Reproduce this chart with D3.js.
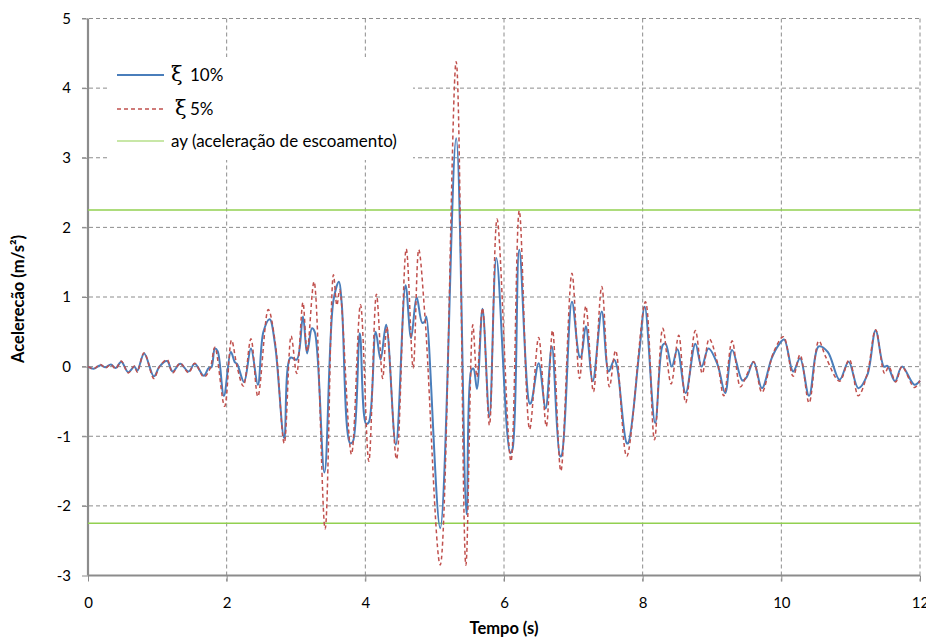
<!DOCTYPE html>
<html>
<head>
<meta charset="utf-8">
<script src="https://cdn.jsdelivr.net/npm/d3@7"></script>
<style>
  body { margin: 0; background: #fff; }
  svg { display: block; font-family: Lato, "Liberation Sans", sans-serif; }
</style>
</head>
<body>
<svg id="chart" width="926" height="638"></svg>
<script>
// xi = 10% (blue, solid)
const time10 = [0, 0.08, 0.18, 0.25, 0.33, 0.40, 0.48, 0.58, 0.67, 0.71, 0.81, 0.95, 1.03, 1.14, 1.22, 1.33, 1.45, 1.54, 1.67, 1.74, 1.78, 1.83, 1.87, 1.96, 2.06, 2.12, 2.15, 2.25, 2.35, 2.45, 2.53, 2.62, 2.70, 2.83, 2.92, 3.01, 3.10, 3.16, 3.23, 3.27, 3.41, 3.54, 3.62, 3.66, 3.78, 3.82, 3.92, 4.01, 4.05, 4.15, 4.22, 4.30, 4.44, 4.58, 4.66, 4.74, 4.82, 4.86, 4.88, 5.08, 5.31, 5.46, 5.53, 5.56, 5.61, 5.69, 5.79, 5.89, 6.09, 6.12, 6.22, 6.37, 6.39, 6.50, 6.60, 6.69, 6.81, 6.83, 6.98, 7.09, 7.11, 7.18, 7.28, 7.41, 7.51, 7.59, 7.63, 7.77, 7.79, 7.95, 8.03, 8.18, 8.29, 8.33, 8.42, 8.50, 8.62, 8.76, 8.85, 8.95, 9.08, 9.19, 9.29, 9.44, 9.50, 9.60, 9.72, 9.86, 9.96, 10.04, 10.17, 10.27, 10.40, 10.54, 10.67, 10.84, 10.97, 11.11, 11.24, 11.36, 11.48, 11.53, 11.64, 11.74, 11.92, 12];
const acc10 = [0, -0.03, 0.02, -0.01, 0.03, -0.02, 0.07, -0.08, 0, -0.06, 0.19, -0.14, 0, 0.08, -0.07, 0.04, -0.07, 0.04, -0.13, -0.02, -0.01, 0.26, 0.22, -0.42, 0.21, 0.06, 0.04, -0.22, 0.26, -0.26, 0.50, 0.68, 0.30, -1.03, 0.13, 0.10, 0.72, 0.19, 0.55, 0.50, -1.52, 0.95, 1.22, 0.90, -1.10, -1.08, 0.48, -0.82, -0.80, 0.50, 0.10, 0.60, -1.12, 1.17, 0.41, 1.00, 0.63, 0.65, 0.72, -2.32, 3.28, -2.12, -0.05, -0.03, -0.32, 0.83, -0.72, 1.56, -1.24, -1.20, 1.68, -0.53, -0.52, 0.05, -0.60, 0.29, -1.29, -1.28, 0.93, 0.14, 0.14, 0.58, -0.21, 0.79, -0.07, 0.10, 0.00, -1.10, -1.10, 0.20, 0.86, -0.81, 0.31, 0.33, 0, 0.25, -0.38, 0.33, 0, 0.26, 0.03, -0.38, 0.24, -0.20, -0.15, 0.07, -0.31, 0.12, 0.31, 0.39, -0.07, 0.12, -0.42, 0.29, 0.21, -0.19, 0.07, -0.31, -0.12, 0.52, 0, 0.01, -0.21, 0, -0.26, -0.20];

// xi = 5% (red, dashed)
const time5 = [0, 0.08, 0.18, 0.25, 0.33, 0.40, 0.48, 0.58, 0.67, 0.71, 0.81, 0.95, 1.03, 1.14, 1.22, 1.33, 1.45, 1.54, 1.67, 1.76, 1.83, 1.97, 2.07, 2.15, 2.24, 2.35, 2.45, 2.60, 2.70, 2.83, 2.93, 3.01, 3.10, 3.16, 3.26, 3.42, 3.54, 3.59, 3.63, 3.80, 3.93, 4.05, 4.16, 4.25, 4.31, 4.45, 4.59, 4.69, 4.77, 4.86, 5.08, 5.31, 5.45, 5.55, 5.61, 5.69, 5.79, 5.90, 6.10, 6.22, 6.37, 6.50, 6.61, 6.70, 6.82, 6.98, 7.09, 7.18, 7.29, 7.41, 7.52, 7.61, 7.77, 8.04, 8.17, 8.29, 8.41, 8.52, 8.62, 8.76, 8.86, 8.96, 9.08, 9.17, 9.29, 9.41, 9.50, 9.60, 9.72, 9.89, 10.03, 10.17, 10.27, 10.40, 10.54, 10.64, 10.84, 10.98, 11.11, 11.24, 11.36, 11.49, 11.55, 11.65, 11.74, 11.92, 12];
const acc5 = [0, -0.03, 0.03, -0.02, 0.03, -0.03, 0.08, -0.09, 0.01, -0.08, 0.20, -0.17, 0, 0.10, -0.09, 0.05, -0.09, 0.05, -0.15, -0.03, 0.28, -0.57, 0.38, 0.00, -0.28, 0.40, -0.43, 0.82, 0.35, -1.10, 0.44, -0.10, 0.92, 0.22, 1.22, -2.33, 1.32, 0.88, 1.10, -1.26, 0.89, -1.36, 1.04, -0.17, 0.57, -1.33, 1.69, -0.02, 1.68, 0.72, -2.85, 4.38, -2.85, 0.60, -0.15, 0.84, -0.84, 2.12, -1.36, 2.24, -0.90, 0.42, -0.86, 0.52, -1.50, 1.34, -0.17, 0.87, -0.36, 1.15, -0.29, 0.23, -1.29, 0.93, -1.05, 0.55, -0.25, 0.45, -0.52, 0.52, -0.10, 0.40, 0.05, -0.42, 0.37, -0.29, -0.12, 0.07, -0.37, 0.21, 0.43, -0.14, 0.17, -0.52, 0.37, 0.14, -0.21, 0.10, -0.42, -0.10, 0.53, -0.10, 0.00, -0.22, 0, -0.30, -0.20];

// yield acceleration
const ay = 2.25;

const xTicks = [0, 2, 4, 6, 8, 10, 12];
const yTicks = [-3, -2, -1, 0, 1, 2, 3, 4, 5];

const svg = d3.select('#chart');
const plotLeft = 88, plotRight = 920, plotTop = 18.5, plotBottom = 575.5;

const x = d3.scaleLinear().domain([0, 12]).range([plotLeft, plotRight]);
const y = d3.scaleLinear().domain([-3, 5]).range([plotBottom, plotTop]);

const gridColor = '#8c8c8c';

// grid
svg.append('g')
  .selectAll('line')
  .data(yTicks.filter(d => d !== -3))
  .enter()
  .append('line')
  .attr('x1', plotLeft - 6).attr('x2', plotRight)
  .attr('y1', d => y(d)).attr('y2', d => y(d))
  .attr('stroke', gridColor)
  .attr('stroke-width', 1)
  .attr('stroke-dasharray', '4,3');

svg.append('g')
  .selectAll('line')
  .data(xTicks.filter(d => d !== 0))
  .enter()
  .append('line')
  .attr('x1', d => x(d)).attr('x2', d => x(d))
  .attr('y1', plotTop).attr('y2', plotBottom + 6)
  .attr('stroke', gridColor)
  .attr('stroke-width', 1)
  .attr('stroke-dasharray', '4,3');

// axes (plain hyphen for negatives, like the original)
const fmt = d => String(d);
const yAxis = svg.append('g')
  .attr('transform', `translate(${plotLeft},0)`)
  .call(d3.axisLeft(y).tickValues(yTicks).tickSize(6).tickPadding(11).tickFormat(fmt));
const xAxis = svg.append('g')
  .attr('transform', `translate(0,${plotBottom})`)
  .call(d3.axisBottom(x).tickValues(xTicks).tickSize(6).tickPadding(16).tickFormat(fmt));

[yAxis, xAxis].forEach(g => {
  g.select('.domain').attr('stroke', gridColor).attr('stroke-width', 2.2);
  g.selectAll('.tick line').attr('stroke', gridColor);
  g.selectAll('.tick text')
    .attr('fill', '#000')
    .style('font-family', 'Lato, sans-serif')
    .style('font-size', '15px');
});
xAxis.select('.domain').attr('d', `M${plotLeft},0H${plotRight}`);
yAxis.select('.domain').attr('d', `M0,${plotTop}V${plotBottom}`);

// yield lines
svg.append('g')
  .selectAll('line')
  .data([ay, -ay])
  .enter()
  .append('line')
  .attr('x1', plotLeft).attr('x2', plotRight)
  .attr('y1', d => y(d)).attr('y2', d => y(d))
  .attr('stroke', '#92d050')
  .attr('stroke-width', 1.6);

const line = d3.line()
  .x(d => x(d[0]))
  .y(d => y(d[1]))
  .curve(d3.curveCatmullRom.alpha(0.5));

const s10 = time10.map((t, i) => [t, acc10[i]]);
const s5 = time5.map((t, i) => [t, acc5[i]]);

svg.append('path')
  .datum(s10)
  .attr('d', line)
  .attr('fill', 'none')
  .attr('stroke', '#4a7ebb')
  .attr('stroke-width', 2);

svg.append('path')
  .datum(s5)
  .attr('d', line)
  .attr('fill', 'none')
  .attr('stroke', '#c0504d')
  .attr('stroke-width', 1.5)
  .attr('stroke-dasharray', '4,3');

// legend
const legend = svg.append('g');
legend.append('rect')
  .attr('x', 107).attr('y', 57).attr('width', 306).attr('height', 103)
  .attr('fill', '#fff');

const legendItems = [
  { sym: 'ξ', label: '10%', color: '#4a7ebb', dash: null, w: 2, y: 75, sx: 171 },
  { sym: 'ξ', label: '5%', color: '#c0504d', dash: '4,3', w: 1.5, y: 109, sx: 175 },
  { sym: '', label: 'ay (aceleração de escoamento)', color: '#92d050', dash: null, w: 1.2, y: 141, sx: 171 }
];
legendItems.forEach(d => {
  legend.append('line')
    .attr('x1', 117).attr('x2', 164)
    .attr('y1', d.y).attr('y2', d.y)
    .attr('stroke', d.color)
    .attr('stroke-width', d.w)
    .attr('stroke-dasharray', d.dash);
  const txt = legend.append('text')
    .attr('x', d.sx)
    .attr('y', d.y + 6)
    .attr('fill', '#000')
    .style('font-size', '17px');
  if (d.sym) {
    txt.append('tspan')
      .style('font-family', '"DejaVu Serif", serif')
      .style('font-size', '21px')
      .text(d.sym);
    txt.append('tspan')
      .attr('x', 190)
      .text(d.label);
  } else {
    txt.text(d.label);
  }
});

// axis titles
svg.append('text')
  .attr('x', (plotLeft + plotRight) / 2)
  .attr('y', 634)
  .attr('text-anchor', 'middle')
  .style('font-size', '16.5px')
  .style('font-weight', 'bold')
  .text('Tempo (s)');

svg.append('text')
  .attr('transform', `translate(24,${(plotTop + plotBottom) / 2 + 2}) rotate(-90)`)
  .attr('text-anchor', 'middle')
  .style('font-size', '16.5px')
  .style('font-weight', 'bold')
  .text('Acelerecão (m/s²)');
</script>
</body>
</html>
